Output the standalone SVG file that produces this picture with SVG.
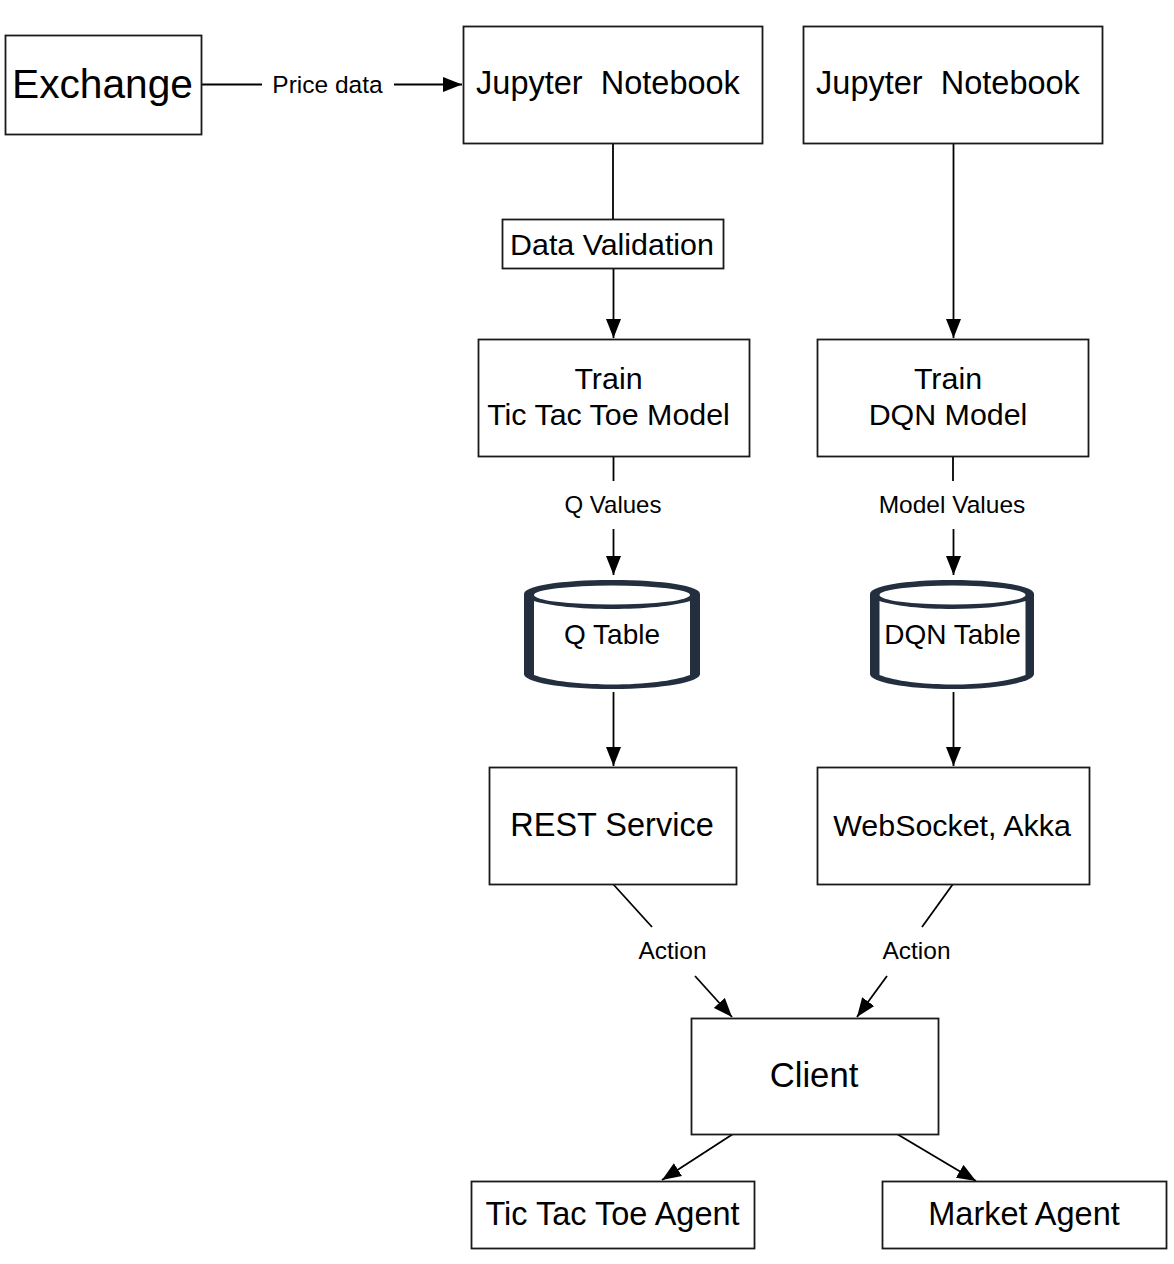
<svg xmlns="http://www.w3.org/2000/svg" width="1174" height="1264" viewBox="0 0 1174 1264">
<style>
text{font-family:"Liberation Sans",Arial,sans-serif;fill:#000;text-anchor:middle;white-space:pre}
.n rect{fill:#fff;stroke:#1a1a1a;stroke-width:1.8}
.t{font-size:30.400px}
.a{font-size:32.500px}
.l{font-size:24.500px}
.c{fill:none;stroke:#000;stroke-width:1.8}
.o{fill:#232f3e}
.w{fill:#fff}
</style>
<defs>
<marker id="a" markerUnits="userSpaceOnUse" markerWidth="20" markerHeight="16" refX="19" refY="8" orient="auto"><path d="M0 0.500L19 8L0 15.500Z" fill="#000"/></marker>
</defs>
<rect width="1174" height="1264" fill="#fff"/>
<g id="connectors">
<path class="c" d="M202 84.500H262"/>
<path class="c" d="M394 84.500H462" marker-end="url(#a)"/>
<path class="c" d="M613 143V220"/>
<path class="c" d="M613.500 269V338" marker-end="url(#a)"/>
<path class="c" d="M953.500 143V338" marker-end="url(#a)"/>
<path class="c" d="M613.500 457V481"/>
<path class="c" d="M613.500 529V575" marker-end="url(#a)"/>
<path class="c" d="M953 457V481"/>
<path class="c" d="M953.500 529V575" marker-end="url(#a)"/>
<path class="c" d="M613.500 692V766" marker-end="url(#a)"/>
<path class="c" d="M953.500 692V766" marker-end="url(#a)"/>
<path class="c" d="M613 884L652 927"/>
<path class="c" d="M695 976L732 1017" marker-end="url(#a)"/>
<path class="c" d="M953 884L922 927"/>
<path class="c" d="M887 976L857 1017" marker-end="url(#a)"/>
<path class="c" d="M733 1134L662 1180" marker-end="url(#a)"/>
<path class="c" d="M897 1134L976 1181" marker-end="url(#a)"/>
<text x="327.500" y="93" class="l">Price data</text>
<text x="613" y="513" class="l" style="font-size:24px">Q Values</text>
<text x="952" y="513" class="l">Model Values</text>
<text x="672.500" y="959" class="l">Action</text>
<text x="916.500" y="959" class="l">Action</text>
</g>
<g id="exchange" class="n"><rect x="5.500" y="35.500" width="196" height="99"/><text x="102.500" y="98" font-size="40.700">Exchange</text></g>
<g id="notebook1" class="n"><rect x="463.500" y="26.500" width="299" height="117"/><text x="608" y="94" class="a" xml:space="preserve">Jupyter  Notebook</text></g>
<g id="notebook2" class="n"><rect x="803.500" y="26.500" width="299" height="117"/><text x="948" y="94" class="a" xml:space="preserve">Jupyter  Notebook</text></g>
<g id="validation" class="n"><rect x="502.500" y="219.500" width="221" height="49"/><text x="612" y="255" class="t">Data Validation</text></g>
<g id="train1" class="n"><rect x="478.500" y="339.500" width="271" height="117"/><text x="608.500" y="389" class="t">Train</text><text x="608.500" y="425" class="t">Tic Tac Toe Model</text></g>
<g id="train2" class="n"><rect x="817.500" y="339.500" width="271" height="117"/><text x="948" y="389" class="t">Train</text><text x="948" y="425" class="t">DQN Model</text></g>
<g id="qtable">
<path class="o" d="M524 594C524 586 560 580 612 580C664 580 700 586 700 594V674C700 682 664 689 612 689C560 689 524 682 524 674Z"/>
<ellipse class="w" cx="612" cy="595" rx="78" ry="9.500"/>
<path class="w" d="M534 601C550 606 580 609 612 609C644 609 674 606 690 601V675C674 681 644 684.500 612 684.500C580 684.500 550 681 534 675Z"/>
<text x="612" y="644" font-size="28">Q Table</text>
</g>
<g id="dqntable">
<path class="o" d="M870 594C870 586 905 580 952 580C999 580 1034 586 1034 594V674C1034 682 999 689 952 689C905 689 870 682 870 674Z"/>
<ellipse class="w" cx="952.500" cy="595" rx="73" ry="9.500"/>
<path class="w" d="M879.500 601C895 606 922 609 952.500 609C983 609 1010 606 1025.500 601V675C1010 681 983 684.500 952.500 684.500C922 684.500 895 681 879.500 675Z"/>
<text x="952.500" y="644" font-size="28">DQN Table</text>
</g>
<g id="rest" class="n"><rect x="489.500" y="767.500" width="247" height="117"/><text x="612" y="836" font-size="32.500">REST Service</text></g>
<g id="websocket" class="n"><rect x="817.500" y="767.500" width="272" height="117"/><text x="952" y="836" class="t">WebSocket, Akka</text></g>
<g id="client" class="n"><rect x="691.500" y="1018.500" width="247" height="116"/><text x="814" y="1087" font-size="34.700">Client</text></g>
<g id="tictactoe" class="n"><rect x="471.500" y="1181.500" width="283" height="67"/><text x="612.500" y="1225" class="a">Tic Tac Toe Agent</text></g>
<g id="market" class="n"><rect x="882.500" y="1181.500" width="284" height="67"/><text x="1024" y="1225" class="a">Market Agent</text></g>
</svg>
